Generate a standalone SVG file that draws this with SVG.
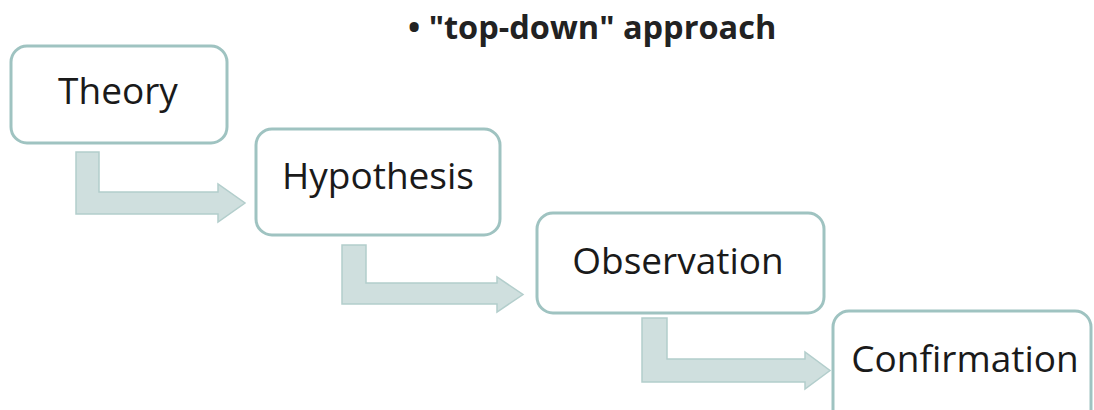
<svg xmlns="http://www.w3.org/2000/svg" width="1094" height="410" viewBox="0 0 1094 410">
  <style>
    .box { fill: #ffffff; stroke: #9fc3c1; stroke-width: 3; }
    .label { font-family: "Open Sans", "Liberation Sans", sans-serif; font-size: 37px; fill: #1a1a1a; }
    .flow { fill: #cfdfde; stroke: #b3cecc; stroke-width: 1.5; }
    .title { font-family: "Open Sans", "Liberation Sans", sans-serif; font-size: 32.5px; font-weight: bold; fill: #222222; }
  </style>
  <rect width="1094" height="410" fill="#ffffff"/>

  <text class="title" x="408" y="39">• "top-down" approach</text>

  <!-- bent arrows between steps -->
  <g id="connectors">
    <path class="flow" d="M76,152 H99 V192 H218 V184 L245,203 L218,222 V214 H76 Z"/>
    <path class="flow" d="M342,245 H366 V283 H497 V277 L523,294.5 L497,312 V304 H342 Z"/>
    <path class="flow" d="M642,318 H667 V359 H805 V352 L830,370.5 L805,389 V382 H642 Z"/>
  </g>

  <g id="theory">
    <rect class="box" x="11" y="46" width="216" height="97" rx="16"/>
    <text class="label" x="118" y="104" text-anchor="middle">Theory</text>
  </g>

  <g id="hypothesis">
    <rect class="box" x="256" y="129" width="244" height="106" rx="16"/>
    <text class="label" x="378" y="189" text-anchor="middle">Hypothesis</text>
  </g>

  <g id="observation">
    <rect class="box" x="537" y="213" width="287" height="100" rx="16"/>
    <text class="label" x="678" y="274" text-anchor="middle">Observation</text>
  </g>

  <g id="confirmation">
    <rect class="box" x="833" y="311" width="258" height="130" rx="16"/>
    <text class="label" x="965" y="372" text-anchor="middle">Confirmation</text>
  </g>
</svg>
